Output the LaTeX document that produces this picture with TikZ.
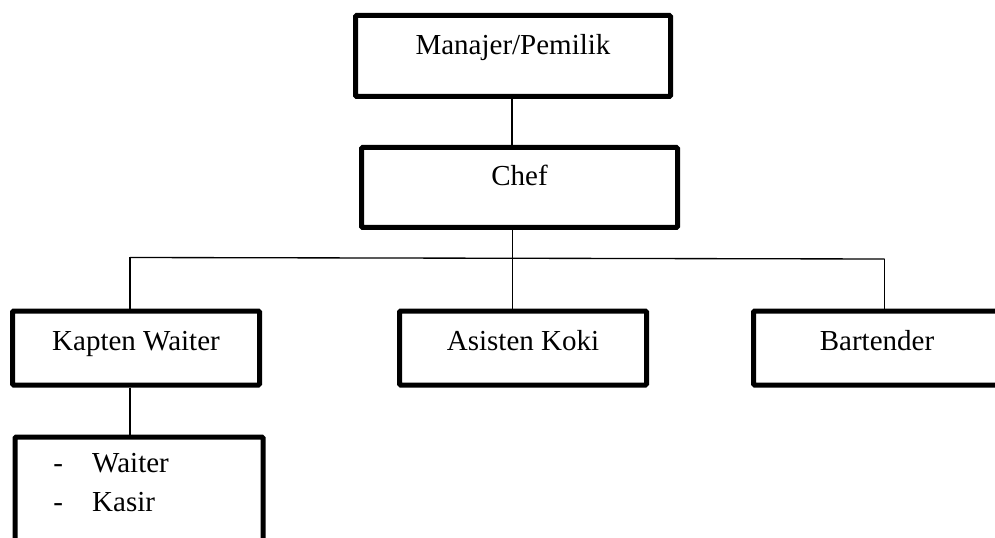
\documentclass[tikz,border=0pt]{standalone}
\usepackage{fontspec}
\setmainfont{Liberation Serif}
\begin{document}
\begin{tikzpicture}[x=0.75pt,y=-0.75pt,
  font=\fontsize{21.75pt}{29.25pt}\selectfont,
  orgbox/.style={draw=black, line width=3.75pt, rectangle, inner sep=0pt, rounded corners=0.8pt},
  conn/.style={draw=black, line width=1pt}]
\useasboundingbox (0,0) rectangle (995,538);
\clip (0,0) rectangle (995,538);
\fill[white] (0,0) rectangle (995,538);

\node[orgbox, anchor=base, minimum width=236.25pt, text height=29.625pt, text depth=31.125pt] (manajer) at (513,55) {Manajer/Pemilik};
\node[orgbox, anchor=base, minimum width=237pt, text height=28.65pt, text depth=31.35pt] (chef) at (519.5,185.7) {Chef};
\node[orgbox, anchor=base, minimum width=185.25pt, text height=29.25pt, text depth=26.25pt] (kapten) at (136,350) {Kapten Waiter};
\node[orgbox, anchor=base, minimum width=185.25pt, text height=29.25pt, text depth=26.25pt] (asisten) at (523,350) {Asisten Koki};
\node[orgbox, anchor=base, minimum width=185.25pt, text height=29.25pt, text depth=26.25pt] (bartender) at (877,350) {Bartender};
\node[orgbox, anchor=north west, minimum width=186pt, minimum height=109pt] (sub) at (12.5,434.5) {};
\node[anchor=base west, inner sep=0pt] (list) at (53,472) {\begin{tabular}[t]{@{}p{29.25pt}@{}l@{}}-&Waiter\\-&Kasir\end{tabular}};

\coordinate (top) at (512,120);
\coordinate (hl) at (130,257.5);
\coordinate (hm) at (512.5,258);
\coordinate (hr) at (884.5,259);

\draw[conn] (top |- manajer.south) -- (top |- chef.north);
\draw[conn] (hm |- chef.south) -- (hm |- asisten.north);
\draw[conn] (hl) -- (hr);
\draw[conn] (hl) -- (hl |- kapten.north);
\draw[conn] (hr) -- (hr |- bartender.north);
\draw[conn] (hl |- kapten.south) -- (hl |- sub.north);
\end{tikzpicture}
\end{document}
